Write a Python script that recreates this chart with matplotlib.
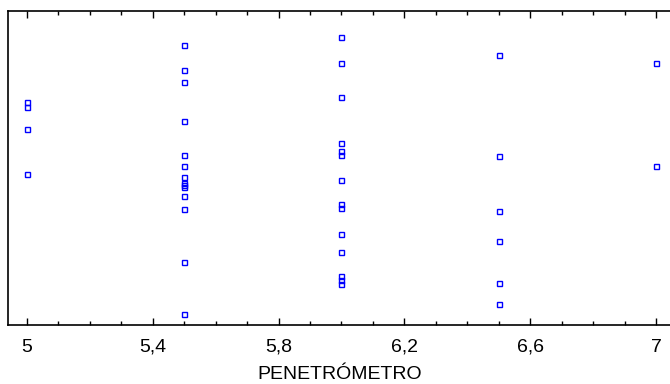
import matplotlib
matplotlib.use("Agg")
import matplotlib.pyplot as plt
from matplotlib.ticker import MultipleLocator, FuncFormatter

# penetrometer reading (x) and response (y, arbitrary units)
pen_5_0 = [222.7, 217.7, 195.7, 151.3]
pen_5_5 = [279.7, 255.3, 243.0, 203.7, 170.0, 158.7, 148.0, 142.0, 140.0, 138.3,
           129.0, 116.3, 62.7, 11.3]
pen_6_0 = [288.0, 261.7, 228.0, 181.7, 174.0, 170.0, 144.7, 121.0, 116.7, 91.0,
           73.0, 49.0, 45.0, 40.7]
pen_6_5 = [270.0, 169.0, 114.3, 83.7, 41.7, 20.7]
pen_7_0 = [261.7, 158.7]

groups = [(5.0, pen_5_0), (5.5, pen_5_5), (6.0, pen_6_0), (6.5, pen_6_5), (7.0, pen_7_0)]
x_ticks = [5.0, 5.4, 5.8, 6.2, 6.6, 7.0]
x_label = "PENETRÓMETRO"

plt.rcParams['font.family'] = ['Liberation Sans', 'DejaVu Sans']

fig = plt.figure(figsize=(6.7, 3.84), dpi=100)
ax = fig.add_axes([8 / 670, 59 / 384, 664 / 670, 314 / 384])

for xv, ys in groups:
    ax.plot([xv] * len(ys), ys, linestyle='none', marker='s', markersize=3.6,
            markerfacecolor='none', markeredgecolor='#0000ff', markeredgewidth=1.0)

ax.set_xlim(4.94, 7.051)
ax.set_ylim(0, 314)

ax.set_xticks(x_ticks)
ax.xaxis.set_minor_locator(MultipleLocator(0.1))
ax.xaxis.set_major_formatter(FuncFormatter(lambda v, p: ("%g" % round(v, 1)).replace('.', ',')))
ax.tick_params(axis='x', which='major', direction='in', length=5, width=1,
               top=True, labelsize=14, pad=10)
ax.tick_params(axis='x', which='minor', direction='in', length=3, width=1, top=True)
ax.set_yticks([])
ax.set_xlabel(x_label, fontsize=14, labelpad=7)

for s in ax.spines.values():
    s.set_linewidth(1.2)

fig.savefig("out.png", dpi=100)
